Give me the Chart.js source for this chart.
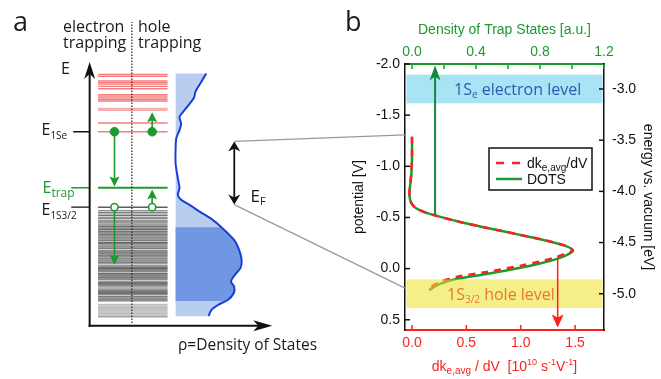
<!DOCTYPE html>
<html>
<head>
<meta charset="utf-8">
<script src="https://cdn.jsdelivr.net/npm/chart.js@4.4.0/dist/chart.umd.min.js"></script>
<style>
  body { margin: 0; background: #fff; }
  #wrap { position: relative; width: 661px; height: 379px; }
  #wrap canvas { position: absolute; left: 0; top: 0; }
</style>
</head>
<body>
<div id="wrap">
  <canvas id="panelA" width="330" height="379"></canvas>
  <canvas id="panelB" width="661" height="379"></canvas>
</div>
<script>
const GREEN = '#1d9a2e';
const RED = '#ff1f1f';
const SANS = '"Liberation Sans", Arial, sans-serif';
const MYR = '"Open Sans", sans-serif';

// ---------- panel a : schematic, energy E and density rho in arbitrary units ----------
const conductionLevels = [25.9, 25.7, 25.23, 25.07, 24.9, 24.67, 24.43, 23.83, 23.67, 23.5, 23.33, 23.17, 22.3, 20.9, 20.0];
const conductionWidths = [1.3, 1.3, 1.3, 1.3, 1.3, 1.3, 1.3, 1.3, 1.3, 1.3, 1.3, 1.3, 3.2, 1.3, 1.3];
const valenceLevels = [12.23, 11.85, 11.65, 11.4, 11.2, 11.05, 10.85, 10.7, 10.5, 10.35,
  10.2, 10.05, 9.9, 9.7, 9.55, 9.4, 9.25, 9.1, 8.95, 8.8,
  8.6, 8.45, 8.3, 8.15, 8.0, 7.8, 7.65, 7.5, 7.35, 7.2,
  7.0, 6.85, 6.7, 6.55, 6.4, 6.2, 6.05, 5.9, 5.75, 5.6,
  5.4, 5.25, 5.1, 4.95, 4.8, 4.6, 4.45, 4.3, 4.15, 4.0,
  3.8, 3.65, 3.5, 3.35, 3.2, 3.0, 2.85, 2.7, 2.55,
  2.2, 2.05, 1.9, 1.75, 1.6, 1.45, 1.3, 1.15, 1.0, 0.9];
const valenceShade = [0.75, 0.5, 0.6, 0.65, 0.4, 0.55, 0.45, 0.6, 0.5, 0.45,
  0.6, 0.5, 0.7, 0.65, 0.5, 0.6, 0.45, 0.55, 0.5, 0.6,
  0.7, 0.55, 0.45, 0.5, 0.6, 0.45, 0.55, 0.65, 0.5, 0.7,
  0.55, 0.45, 0.5, 0.6, 0.45, 0.5, 0.6, 0.7, 0.65, 0.55,
  0.7, 0.6, 0.5, 0.65, 0.55, 0.5, 0.6, 0.7, 0.55, 0.45,
  0.5, 0.6, 0.7, 0.65, 0.55, 0.6, 0.5, 0.55, 0.45,
  0.3, 0.25, 0.3, 0.25, 0.3, 0.25, 0.3, 0.25, 0.3, 0.25];
const ladderRho = [0.87, 8.07];
const levelE1Se = 20.0;
const levelTrap = 14.23;
const levelE1S32 = 12.23;
const dosRho = [12.07, 11.47, 10.97, 10.8, 10.3, 9.63, 9.3, 9.47, 9.3, 8.97, 8.9, 8.9, 9.13, 9.3, 9.13, 9.47, 10.3, 11.3, 12.63, 13.63, 14.97, 15.47, 15.73, 15.63, 14.97, 14.63, 14.97, 14.9, 14.3, 13.3, 12.63, 12.3];
const dosE = [26.0, 25.0, 24.17, 23.5, 22.83, 22.0, 21.5, 20.83, 20.17, 19.33, 18.33, 16.7, 15.2, 14.2, 13.5, 13.0, 12.5, 11.83, 11.0, 10.17, 8.83, 7.83, 6.83, 6.0, 5.17, 4.57, 4.0, 3.33, 2.67, 2.17, 1.67, 1.0];
const dosBase = 8.9;
const dosDarkRange = [2.57, 10.17];
const carrierRho = [2.57, 6.47];
const transitionsA = [[2.57, 20.0, 2.57, 14.35], [6.47, 20.0, 6.47, 22.0], [2.57, 12.23, 2.57, 6.3], [6.47, 12.23, 6.47, 14.05]];
const fermiArrow = [14.97, 19.0, 12.5];

// ---------- panel b ----------
const potentialV = [-1.29, -1.1, -0.95, -0.85, -0.75, -0.68, -0.63, -0.59, -0.55, -0.52, -0.46, -0.40, -0.33, -0.27, -0.22, -0.175, -0.13, -0.095, -0.05, -0.013, 0.055, 0.10, 0.15, 0.21];
const dotsDensity = [0, 0, -0.003, -0.009, -0.016, -0.013, 0, 0.025, 0.081, 0.144, 0.288, 0.463, 0.675, 0.85, 0.963, 1.006, 0.963, 0.906, 0.8, 0.694, 0.456, 0.281, 0.175, 0.106];
const dkPotentialV = [-1.29, -1.1, -0.95, -0.85, -0.75, -0.68, -0.63, -0.59, -0.55, -0.52, -0.46, -0.40, -0.33, -0.27, -0.22, -0.175, -0.15, -0.115, -0.07, -0.033, 0.035, 0.08, 0.13, 0.19];
const dkdV = [0, 0, -0.005, -0.014, -0.023, -0.018, 0, 0.037, 0.12, 0.212, 0.423, 0.681, 0.994, 1.251, 1.417, 1.481, 1.417, 1.334, 1.178, 1.021, 0.672, 0.414, 0.258, 0.156];
const electronLevelEV = [-3.14, -2.86];
const holeLevelEV = [-5.14, -4.86];
const dotsArrow = [0.144, -0.52, -1.985];
const dkArrow = [1.34, -0.11, 0.575];
const fermiOnPotential = [-1.307, 0.19];

function arrow(ctx, x0, y0, x1, y1, color, lw, len, wid, notch) {
  const a = Math.atan2(y1 - y0, x1 - x0);
  ctx.save();
  ctx.strokeStyle = color; ctx.fillStyle = color; ctx.lineWidth = lw;
  ctx.beginPath();
  ctx.moveTo(x0, y0);
  ctx.lineTo(x1 - Math.cos(a) * (len - notch - 1), y1 - Math.sin(a) * (len - notch - 1));
  ctx.stroke();
  ctx.translate(x1, y1); ctx.rotate(a);
  ctx.beginPath();
  ctx.moveTo(0, 0); ctx.lineTo(-len, wid / 2); ctx.lineTo(-len + notch, 0); ctx.lineTo(-len, -wid / 2);
  ctx.closePath(); ctx.fill();
  ctx.restore();
}

// parts: [text, size, dy]
function rich(ctx, x, y, parts, family, color, align) {
  ctx.save();
  ctx.fillStyle = color; ctx.textBaseline = 'alphabetic'; ctx.textAlign = 'left';
  let w = 0;
  parts.forEach(p => { ctx.font = p[1] + 'px ' + family; w += ctx.measureText(p[0]).width; });
  let cx = align === 'center' ? x - w / 2 : x;
  parts.forEach(p => {
    ctx.font = p[1] + 'px ' + family;
    ctx.fillText(p[0], cx, y + (p[2] || 0));
    cx += ctx.measureText(p[0]).width;
  });
  ctx.restore();
}

const seg = (x0, x1, y) => [{x: x0, y: y}, {x: x1, y: y}];
const datasetsA = [];
conductionLevels.forEach((e, i) => datasetsA.push({
  data: seg(ladderRho[0], ladderRho[1], e),
  borderColor: conductionWidths[i] > 2 ? 'rgba(245,120,120,0.6)' : 'rgba(240,70,70,0.7)',
  borderWidth: conductionWidths[i]
}));
valenceLevels.forEach((e, i) => datasetsA.push({
  data: seg(ladderRho[0], ladderRho[1], e),
  borderColor: 'rgba(40,40,40,' + valenceShade[i] + ')',
  borderWidth: 1.5
}));
datasetsA.push({data: seg(ladderRho[0], ladderRho[1], levelTrap), borderColor: GREEN, borderWidth: 1.8});
datasetsA.push({data: seg(-1.7, 0, levelE1Se), borderColor: '#111', borderWidth: 1.3});
datasetsA.push({data: seg(-1.9, 0, levelTrap), borderColor: GREEN, borderWidth: 1.5});
datasetsA.push({data: seg(-1.9, 0, levelE1S32), borderColor: '#111', borderWidth: 1.3});
datasetsA.push({data: [{x: 4.37, y: 0.3}, {x: 4.37, y: 31.3}], borderColor: '#222', borderWidth: 1.2, borderDash: [1.5, 1.5], order: -0.5});
datasetsA.push({id: 'dos', data: dosRho.map((r, i) => ({x: r, y: dosE[i]})), borderColor: '#1a3fd6', borderWidth: 2, tension: 0.3});
datasetsA.push({data: carrierRho.map(r => ({x: r, y: levelE1S32})), showLine: false, pointRadius: 3.6, pointBorderWidth: 1.6,
  pointBackgroundColor: '#fff', pointBorderColor: GREEN, order: -1, drawArrows: true});
datasetsA.push({data: carrierRho.map(r => ({x: r, y: levelE1Se})), showLine: false, pointRadius: 4.3,
  pointBackgroundColor: GREEN, pointBorderColor: GREEN, order: -2});

const schematicPlugin = {
  id: 'schematic',
  beforeDatasetsDraw(chart) {
    const {ctx, scales: {x, y}} = chart;
    const idx = chart.data.datasets.findIndex(d => d.id === 'dos');
    const line = chart.getDatasetMeta(idx).dataset;
    const bx = x.getPixelForValue(dosBase);
    const shape = () => {
      ctx.beginPath();
      line.path(ctx);
      ctx.lineTo(bx, y.getPixelForValue(dosE[dosE.length - 1]));
      ctx.lineTo(bx, y.getPixelForValue(dosE[0]));
      ctx.closePath();
    };
    ctx.save();
    shape(); ctx.fillStyle = '#b9cdf1'; ctx.fill();
    const yt = y.getPixelForValue(dosDarkRange[1]), yb = y.getPixelForValue(dosDarkRange[0]);
    ctx.beginPath(); ctx.rect(0, yt, chart.width, yb - yt); ctx.clip();
    shape(); ctx.fillStyle = '#7096e4'; ctx.fill();
    ctx.restore();
  },
  beforeDatasetDraw(chart, args) {
    if (!chart.data.datasets[args.index].drawArrows) return;
    const {ctx, scales: {x, y}} = chart;
    transitionsA.forEach(t => arrow(ctx, x.getPixelForValue(t[0]), y.getPixelForValue(t[1]),
      x.getPixelForValue(t[2]), y.getPixelForValue(t[3]), GREEN, 1.6, 10, 10, 2));
  },
  afterDraw(chart) {
    const {ctx, scales: {x, y}} = chart;
    const x0 = x.getPixelForValue(0), y0 = y.getPixelForValue(0);
    arrow(ctx, x0, y0 + 1, x0, y.getPixelForValue(27.2), '#111', 2, 17, 11, 5);
    arrow(ctx, x0 - 1, y0, x.getPixelForValue(18.9), y0, '#111', 2, 19, 11, 5);
    const fx = x.getPixelForValue(fermiArrow[0]);
    const fy1 = y.getPixelForValue(fermiArrow[1]), fy2 = y.getPixelForValue(fermiArrow[2]);
    arrow(ctx, fx, (fy1 + fy2) / 2, fx, fy1, '#111', 1.8, 10, 12, 3);
    arrow(ctx, fx, (fy1 + fy2) / 2, fx, fy2, '#111', 1.8, 10, 12, 3);

    const ink = '#1a1a1a';
    rich(ctx, 13, 31, [['a', 27]], MYR, ink);
    rich(ctx, 63, 31.5, [['electron', 16]], MYR, ink);
    rich(ctx, 63, 47.5, [['trapping', 16]], MYR, ink);
    rich(ctx, 138, 31.5, [['hole', 16]], MYR, ink);
    rich(ctx, 138, 47.5, [['trapping', 16]], MYR, ink);
    rich(ctx, 61, 73.5, [['E', 16]], MYR, ink);
    rich(ctx, 41.5, y.getPixelForValue(levelE1Se) + 3.5, [['E', 16], ['1Se', 10, 3.5]], MYR, ink);
    rich(ctx, 42.5, y.getPixelForValue(levelTrap) + 5, [['E', 16], ['trap', 12, 4]], MYR, GREEN);
    rich(ctx, 41.5, y.getPixelForValue(levelE1S32) + 8, [['E', 16], ['1S3/2', 10, 4]], MYR, ink);
    rich(ctx, 178, 350, [['\u03c1=Density of States', 15.5]], MYR, ink);
    rich(ctx, 250.5, 201.5, [['E', 17], ['F', 11, 3.5]], MYR, ink);
  }
};

const chartA = new Chart(document.getElementById('panelA'), {
  type: 'line',
  data: {datasets: datasetsA},
  options: {
    responsive: false,
    animation: false,
    events: [],
    layout: {padding: 0},
    elements: {point: {radius: 0}},
    plugins: {legend: {display: false}, tooltip: {enabled: false}},
    scales: {
      x: {type: 'linear', display: false, min: -8.7, max: 24.3},
      y: {type: 'linear', display: false, min: -4.9, max: 33}
    }
  },
  plugins: [schematicPlugin]
});

function inwardTicks(ctx, scale, side, color) {
  ctx.save();
  ctx.strokeStyle = color; ctx.lineWidth = 1.5;
  scale.ticks.forEach(t => {
    const p = scale.getPixelForValue(t.value);
    ctx.beginPath();
    if (side === 'left') { ctx.moveTo(scale.right, p); ctx.lineTo(scale.right + 5, p); }
    if (side === 'right') { ctx.moveTo(scale.left, p); ctx.lineTo(scale.left - 5, p); }
    if (side === 'top') { ctx.moveTo(p, scale.bottom); ctx.lineTo(p, scale.bottom + 5); }
    if (side === 'bottom') { ctx.moveTo(p, scale.top); ctx.lineTo(p, scale.top - 5); }
    ctx.stroke();
  });
  ctx.restore();
}

const panelBPlugin = {
  id: 'panelB',
  beforeDatasetsDraw(chart) {
    const {ctx, chartArea: ca, scales} = chart;
    const yE = scales.yE;
    const t = yE.getPixelForValue(electronLevelEV[1]), b = yE.getPixelForValue(electronLevelEV[0]);
    ctx.save();
    ctx.fillStyle = '#a8e4f6';
    ctx.fillRect(ca.left + 1.5, t, ca.width - 3, b - t);
    // connectors from the Fermi-level arrow of panel a
    ctx.strokeStyle = '#9a9a9a'; ctx.lineWidth = 1.3;
    const ax = chartA.scales.x.getPixelForValue(fermiArrow[0]);
    [1, 2].forEach((k, i) => {
      ctx.beginPath();
      ctx.moveTo(ax, chartA.scales.y.getPixelForValue(fermiArrow[k]));
      ctx.lineTo(ca.left, scales.y.getPixelForValue(fermiOnPotential[i]));
      ctx.stroke();
    });
    ctx.restore();
  },
  afterDatasetsDraw(chart) {
    const {ctx, chartArea: ca, scales} = chart;
    const yE = scales.yE;
    const t = yE.getPixelForValue(holeLevelEV[1]), b = yE.getPixelForValue(holeLevelEV[0]);
    ctx.save();
    ctx.fillStyle = 'rgba(236,224,40,0.55)';
    ctx.fillRect(ca.left + 1.5, t, ca.width - 3, b - t);
    ctx.restore();

    arrow(ctx, scales.xTop.getPixelForValue(dotsArrow[0]), scales.y.getPixelForValue(dotsArrow[1]),
      scales.xTop.getPixelForValue(dotsArrow[0]), scales.y.getPixelForValue(dotsArrow[2]), '#16883a', 2, 15, 11, 4);
    arrow(ctx, scales.x.getPixelForValue(dkArrow[0]), scales.y.getPixelForValue(dkArrow[1]),
      scales.x.getPixelForValue(dkArrow[0]), scales.y.getPixelForValue(dkArrow[2]), RED, 1.5, 13, 12, 3);

    const eMid = yE.getPixelForValue((electronLevelEV[0] + electronLevelEV[1]) / 2);
    rich(ctx, 454, eMid + 6, [['1S', 16], ['e', 10, 3], [' electron level', 16]], MYR, '#2c5cab');
    const hMid = yE.getPixelForValue((holeLevelEV[0] + holeLevelEV[1]) / 2);
    rich(ctx, 447, hMid + 6, [['1S', 16], ['3/2', 10, 3.5], [' hole level', 16]], MYR, '#e47a2c');

    // legend
    const lx = ca.left + 84, ly = 148;
    ctx.save();
    ctx.fillStyle = '#fff'; ctx.strokeStyle = '#111'; ctx.lineWidth = 1.5;
    ctx.fillRect(lx, ly, 103, 42); ctx.strokeRect(lx, ly, 103, 42);
    ctx.lineWidth = 2.5;
    ctx.strokeStyle = RED; ctx.setLineDash([8, 8]);
    ctx.beginPath(); ctx.moveTo(lx + 7, ly + 15); ctx.lineTo(lx + 33, ly + 15); ctx.stroke();
    ctx.setLineDash([]); ctx.strokeStyle = GREEN;
    ctx.beginPath(); ctx.moveTo(lx + 7, ly + 31); ctx.lineTo(lx + 33, ly + 31); ctx.stroke();
    ctx.restore();
    rich(ctx, lx + 38, ly + 20, [['dk', 14], ['e,avg', 10, 3], ['/dV', 14]], SANS, '#111');
    rich(ctx, lx + 38, ly + 36, [['DOTS', 14]], SANS, '#111');

    inwardTicks(ctx, scales.y, 'left', '#111');
    inwardTicks(ctx, scales.yE, 'right', '#111');
    inwardTicks(ctx, scales.xTop, 'top', GREEN);
    inwardTicks(ctx, scales.x, 'bottom', RED);

    rich(ctx, 345, 31, [['b', 27]], MYR, '#1a1a1a');
    rich(ctx, (ca.left + ca.right) / 2, 370.5, [['dk', 14], ['e,avg', 10, 3.5], [' / dV  [10', 14], ['10', 9, -6],
      [' s', 14], ['-1', 9, -6], ['V', 14], ['-1', 9, -6], [']', 14]], SANS, RED, 'center');
  }
};

const tickFont = {family: SANS, size: 14};
const fixed1 = v => v.toFixed(1);

new Chart(document.getElementById('panelB'), {
  type: 'line',
  data: {
    datasets: [
      {label: 'dke,avg/dV', data: dkPotentialV.map((v, i) => ({x: dkdV[i], y: v})), xAxisID: 'x', yAxisID: 'y',
        borderColor: RED, borderWidth: 2.5, borderDash: [7, 6], tension: 0.3, pointRadius: 0, order: 1},
      {label: 'DOTS', data: potentialV.map((v, i) => ({x: dotsDensity[i], y: v})), xAxisID: 'xTop', yAxisID: 'y',
        borderColor: GREEN, borderWidth: 2.5, tension: 0.3, pointRadius: 0, order: 2}
    ]
  },
  options: {
    responsive: false,
    animation: false,
    events: [],
    layout: {padding: {left: 330, top: 18, right: 0, bottom: 0}},
    plugins: {legend: {display: false}, tooltip: {enabled: false}},
    scales: {
      x: {
        type: 'linear', position: 'bottom', min: -0.064, max: 1.766,
        ticks: {stepSize: 0.5, includeBounds: false, color: RED, font: tickFont, padding: 5, callback: fixed1, maxRotation: 0},
        grid: {display: false, drawTicks: false},
        border: {color: RED, width: 2},
        afterFit: s => { s.height = 49; }
      },
      xTop: {
        type: 'linear', position: 'top', min: -0.044, max: 1.2,
        ticks: {stepSize: 0.2, includeBounds: false, color: GREEN, font: tickFont, padding: 3, maxRotation: 0, autoSkip: false,
          callback: v => (Math.abs(Math.round(v * 10)) % 4 === 0 ? v.toFixed(1) : '')},
        title: {display: true, text: 'Density of Trap States [a.u.]', color: GREEN, font: {family: SANS, size: 14}, padding: {top: 4, bottom: 0}},
        grid: {display: false, drawTicks: false},
        border: {color: GREEN, width: 2},
        afterFit: s => { s.height = 46; }
      },
      y: {
        type: 'linear', position: 'left', reverse: true, min: -2.0, max: 0.6,
        ticks: {stepSize: 0.5, includeBounds: false, color: '#111', font: tickFont, padding: 5, callback: fixed1},
        title: {display: true, text: 'potential [V]', color: '#111', font: {family: SANS, size: 14}, padding: {top: 21, bottom: 0}},
        grid: {display: false, drawTicks: false},
        border: {color: '#111', width: 1.5},
        afterFit: s => { s.width = 75; }
      },
      yE: {
        type: 'linear', position: 'right', min: -5.354, max: -2.756,
        ticks: {stepSize: 0.5, includeBounds: false, color: '#111', font: tickFont, padding: 8, callback: fixed1},
        title: {display: true, text: 'energy vs. vacuum [eV]', color: '#111', font: {family: SANS, size: 14}, padding: {top: 5, bottom: 0}},
        grid: {display: false, drawTicks: false},
        border: {color: '#111', width: 1.5},
        afterFit: s => { s.width = 57; }
      }
    }
  },
  plugins: [panelBPlugin]
});
</script>
</body>
</html>
